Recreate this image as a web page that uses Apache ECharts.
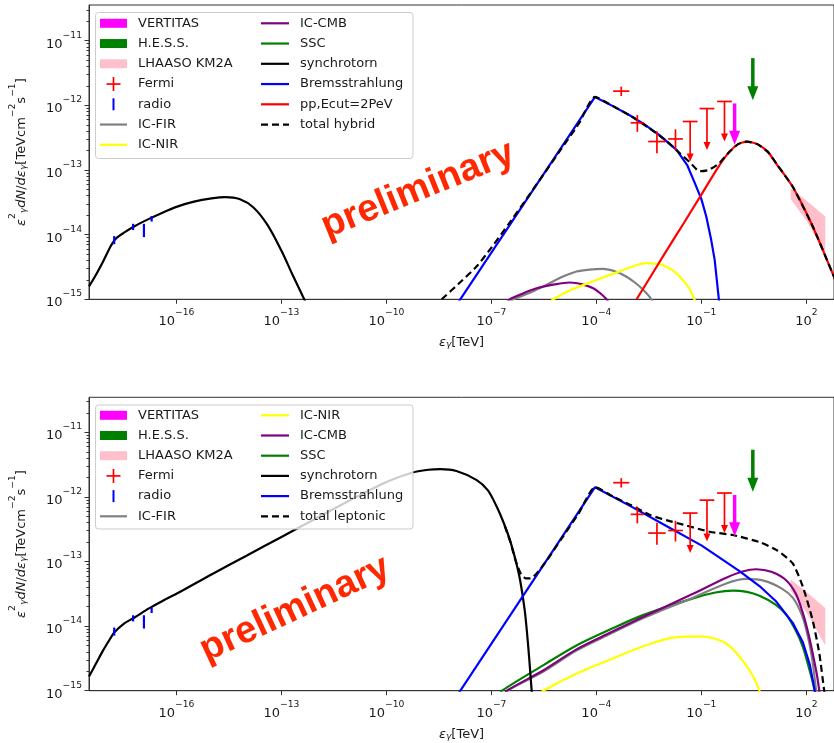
<!DOCTYPE html>
<html><head><meta charset="utf-8">
<script src="https://cdn.jsdelivr.net/npm/echarts@6/dist/echarts.min.js"></script>
<style>html,body{margin:0;padding:0;background:#fff}#c{width:834px;height:743px}</style>
</head><body><div id="c"></div>
<script>
// ---------- DATA (all numbers are log10: energy in TeV, flux in TeV cm^-2 s^-1) ----------
const xTickExp = [-16, -13, -10, -7, -4, -1, 2];
const yTickExp = [-15, -14, -13, -12, -11];

// radio points (shared by both panels)
const radioE  = [-17.78, -17.24, -16.93, -16.71];
const radioLo = [-14.14, -13.92, -14.03, -13.79];
const radioHi = [-14.03, -13.84, -13.84, -13.72];

// Fermi points
const fermiE   = [-3.29, -2.83, -2.27, -1.74];
const fermiF   = [-11.78, -12.27, -12.56, -12.52];
const fermiFlo = [-11.855, -12.41, -12.74, -12.69];
const fermiFhi = [-11.71, -12.15, -12.40, -12.37];
const fermiEhalf = [0.23, 0.19, 0.25, 0.21];

// Fermi upper limits
const ulE   = [-1.32, -0.84, -0.34];
const ulCap = [-12.25, -12.05, -11.94];
const ulTip = [-12.87, -12.69, -12.56];
const ulEhalf = [0.21, 0.21, 0.21];

// VERTITAS and H.E.S.S. upper-limit arrows
const veritasE = [-0.05], veritasTop = [-11.97], veritasTip = [-12.61];
const hessE = [0.47], hessTop = [-11.27], hessTip = [-11.92];

// LHAASO KM2A band
const lhaasoE  = [1.55, 2.0, 2.54];
const lhaasoHi = [-13.28, -13.47, -13.72];
const lhaasoLo = [-13.45, -13.78, -14.3];

// ---- Top panel: hybrid model ----
const syncHyb = [[-18.5,-14.80],[-18.3,-14.62],[-18.1,-14.42],[-17.9,-14.2],[-17.75,-14.07],[-17.5,-13.97],[-17.2,-13.87],[-16.8,-13.76],[-16.4,-13.66],[-16.0,-13.57],[-15.5,-13.49],[-15.0,-13.44],[-14.6,-13.42],[-14.2,-13.45],[-13.8,-13.58],[-13.4,-13.85],[-13.0,-14.25],[-12.7,-14.6],[-12.35,-15.0],[-12.2,-15.2]];
const bremsHyb = [[-7.95,-15.05],[-4.04,-11.87],[-3.5,-12.02],[-3.0,-12.17],[-2.67,-12.28],[-2.2,-12.46],[-1.71,-12.69],[-1.4,-12.93],[-1.19,-13.2],[-1.0,-13.45],[-0.86,-13.72],[-0.72,-14.08],[-0.62,-14.39],[-0.5,-15.0],[-0.47,-15.2]];
const ppHyb = [[-2.85,-15.0],[-2.0,-14.25],[-1.5,-13.82],[-1.0,-13.38],[-0.5,-12.94],[-0.2,-12.72],[0.05,-12.6],[0.3,-12.56],[0.6,-12.6],[0.9,-12.72],[1.14,-12.9],[1.61,-13.26],[2.18,-13.87],[2.75,-14.6],[2.85,-14.73]];
const totalHyb = [[-8.42,-15.0],[-7.9,-14.74],[-7.42,-14.49],[-7.0,-14.2],[-6.5,-13.83],[-6.0,-13.45],[-5.5,-13.06],[-5.0,-12.67],[-4.5,-12.28],[-4.04,-11.87],[-3.5,-12.02],[-3.0,-12.17],[-2.5,-12.35],[-2.0,-12.55],[-1.6,-12.75],[-1.33,-12.88],[-1.05,-13.02],[-0.8,-13.0],[-0.5,-12.9],[-0.2,-12.72],[0.05,-12.6],[0.3,-12.56],[0.6,-12.6],[0.9,-12.72],[1.14,-12.9],[1.61,-13.26],[2.18,-13.87],[2.75,-14.6],[2.85,-14.73]];
const icFirHyb = [[-6.6,-15.1],[-6.37,-15.0],[-5.9,-14.9],[-5.52,-14.8],[-5.0,-14.66],[-4.57,-14.57],[-4.2,-14.54],[-3.81,-14.53],[-3.45,-14.57],[-3.14,-14.65],[-2.9,-14.74],[-2.67,-14.85],[-2.43,-15.0],[-2.35,-15.1]];
const icCmbHyb = [[-6.6,-15.08],[-6.47,-15.0],[-6.1,-14.91],[-5.71,-14.83],[-5.2,-14.77],[-4.76,-14.74],[-4.4,-14.77],[-4.09,-14.83],[-3.88,-14.91],[-3.71,-15.0],[-3.65,-15.05]];
const icNirHyb = [[-5.35,-15.06],[-5.23,-15.0],[-4.7,-14.85],[-4.09,-14.72],[-3.4,-14.58],[-2.9,-14.48],[-2.57,-14.44],[-2.3,-14.45],[-2.1,-14.47],[-1.8,-14.56],[-1.53,-14.7],[-1.35,-14.83],[-1.2,-15.0],[-1.15,-15.06]];

// ---- Bottom panel: leptonic model ----
const syncLep = [[-18.5,-14.78],[-18.3,-14.58],[-18.1,-14.38],[-17.9,-14.2],[-17.78,-14.1],[-17.5,-13.96],[-17.21,-13.87],[-16.8,-13.73],[-16.4,-13.61],[-16.0,-13.5],[-15.0,-13.2],[-14.0,-12.91],[-13.0,-12.62],[-12.0,-12.33],[-11.0,-12.04],[-10.0,-11.77],[-9.3,-11.63],[-8.8,-11.58],[-8.46,-11.57],[-8.0,-11.6],[-7.42,-11.74],[-7.1,-11.9],[-6.85,-12.15],[-6.65,-12.4],[-6.47,-12.67],[-6.3,-13.0],[-6.18,-13.29],[-6.05,-13.75],[-5.99,-14.06],[-5.92,-14.5],[-5.85,-15.0],[-5.83,-15.1]];
const bremsLep = [[-7.95,-15.05],[-4.04,-11.85],[-3.0,-12.15],[-2.0,-12.45],[-1.0,-12.75],[0.09,-13.15],[0.66,-13.38],[1.14,-13.62],[1.61,-13.95],[1.9,-14.25],[2.1,-14.6],[2.24,-15.0],[2.27,-15.1]];
const totalLep = [[-6.62,-12.45],[-6.47,-12.68],[-6.3,-13.0],[-6.15,-13.2],[-6.02,-13.26],[-5.88,-13.26],[-5.7,-13.18],[-5.4,-12.97],[-5.0,-12.65],[-4.5,-12.25],[-4.04,-11.85],[-3.5,-12.0],[-3.0,-12.13],[-2.47,-12.28],[-2.0,-12.36],[-1.52,-12.43],[-0.76,-12.54],[-0.1,-12.59],[0.66,-12.7],[1.14,-12.82],[1.61,-13.03],[1.9,-13.39],[2.18,-13.91],[2.37,-14.42],[2.51,-15.0],[2.55,-15.1]];
const icFirLep = [[-6.6,-15.05],[-6.55,-15.0],[-5.5,-14.7],[-4.57,-14.38],[-3.6,-14.12],[-2.67,-13.88],[-1.24,-13.56],[-0.29,-13.34],[0.28,-13.27],[0.8,-13.3],[1.3,-13.42],[1.61,-13.56],[1.85,-13.8],[2.0,-14.06],[2.15,-14.45],[2.28,-15.0],[2.3,-15.1]];
const icCmbLep = [[-6.6,-15.05],[-6.56,-15.0],[-5.5,-14.68],[-4.57,-14.36],[-3.6,-14.1],[-2.67,-13.86],[-1.24,-13.5],[-0.29,-13.25],[0.2,-13.15],[0.57,-13.12],[1.0,-13.16],[1.42,-13.29],[1.7,-13.5],[1.9,-13.8],[2.05,-14.1],[2.18,-14.42],[2.3,-14.75],[2.37,-15.0],[2.4,-15.1]];
const sscLep = [[-6.75,-15.05],[-6.7,-15.0],[-5.5,-14.6],[-4.57,-14.3],[-3.6,-14.05],[-2.67,-13.83],[-1.24,-13.57],[-0.6,-13.48],[-0.1,-13.45],[0.3,-13.47],[0.66,-13.53],[1.1,-13.66],[1.42,-13.82],[1.7,-14.07],[1.9,-14.32],[2.1,-14.7],[2.24,-15.0],[2.27,-15.1]];
const icNirLep = [[-5.6,-15.05],[-5.52,-15.0],[-4.5,-14.72],[-3.62,-14.52],[-2.6,-14.3],[-1.71,-14.17],[-1.0,-14.16],[-0.29,-14.27],[0.2,-14.55],[0.5,-14.8],[0.66,-15.0],[0.7,-15.05]];

// legend texts
const legendTop1 = ['VERTITAS','H.E.S.S.','LHAASO KM2A','Fermi','radio','IC-FIR','IC-NIR'];
const legendTop2 = ['IC-CMB','SSC','synchrotorn','Bremsstrahlung','pp,Ecut=2PeV','total hybrid'];
const legendBot1 = ['VERTITAS','H.E.S.S.','LHAASO KM2A','Fermi','radio','IC-FIR'];
const legendBot2 = ['IC-NIR','IC-CMB','SSC','synchrotorn','Bremsstrahlung','total leptonic'];
const watermark = 'preliminary';

// ---------- STYLE ----------
const C = {VERTITAS:'#ff00ff', HESS:'#008000', LHAASO:'#ffc0cb', red:'#ff0000', blue:'#0000ff',
  gray:'#808080', yellow:'#ffff00', purple:'#800080', green:'#008000', black:'#000000'};
const legendKinds = {
  'VERTITAS':{k:'patch',c:C.VERTITAS}, 'H.E.S.S.':{k:'patch',c:C.HESS}, 'LHAASO KM2A':{k:'patch',c:C.LHAASO},
  'Fermi':{k:'plus',c:C.red}, 'radio':{k:'bar',c:C.blue}, 'IC-FIR':{k:'line',c:C.gray}, 'IC-NIR':{k:'line',c:C.yellow},
  'IC-CMB':{k:'line',c:C.purple}, 'SSC':{k:'line',c:C.green}, 'synchrotorn':{k:'line',c:C.black},
  'Bremsstrahlung':{k:'line',c:C.blue}, 'pp,Ecut=2PeV':{k:'line',c:C.red},
  'total hybrid':{k:'dash',c:C.black}, 'total leptonic':{k:'dash',c:C.black}
};
const FONT = '"DejaVu Sans", sans-serif';
const TXT = '#1a1a1a';
const LW = 2.2;

const X_MIN = -18.5, X_MAX = 2.79;
const Y_MIN = -15, Y_MAX_TOP = -10.448, Y_MAX_BOT = -10.458;

function fmtExp(v) {
  const n = Math.round(v);
  return '{b|10}{s|' + (n < 0 ? '\u2212' + (-n) : String(n)) + '}';
}
const tickRich = {
  b: {fontSize: 13, fontFamily: FONT, color: TXT, lineHeight: 20, verticalAlign: 'bottom'},
  s: {fontSize: 9.2, fontFamily: FONT, color: TXT, lineHeight: 11, verticalAlign: 'top'}
};
const nameRich = {
  n: {fontSize: 13, fontFamily: FONT, color: TXT, lineHeight: 20, verticalAlign: 'bottom'},
  i: {fontSize: 13, fontFamily: FONT, fontStyle: 'italic', color: TXT, lineHeight: 20, verticalAlign: 'bottom'},
  sp: {fontSize: 9.2, fontFamily: FONT, color: TXT, lineHeight: 11, verticalAlign: 'top'},
  sb: {fontSize: 9.2, fontFamily: FONT, fontStyle: 'italic', color: TXT, lineHeight: 11, verticalAlign: 'bottom'}
};
const yName = '{i|\u03b5}{sp|2}{sb|\u03b3}{i|dN}{n|/}{i|d\u03b5}{sb|\u03b3}{n|[TeVcm}{sp|\u22122}{n|s}{sp|\u22121}{n|]}';
const xName = '{i|\u03b5}{sb|\u03b3}{n|[TeV]}';

const minorVals = [];
for (let n = -15; n <= -11; n++) for (let k = 2; k <= 9; k++) minorVals.push(n + Math.log10(k));

function xAxisDef(gi) {
  return {type: 'value', gridIndex: gi, min: X_MIN, max: X_MAX,
    axisLine: {show: true, onZero: false, lineStyle: {color: '#333', width: 1}},
    axisTick: {show: true, length: 4.5, customValues: xTickExp, lineStyle: {color: '#333'}},
    axisLabel: {customValues: xTickExp, formatter: fmtExp, rich: tickRich, margin: 9},
    splitLine: {show: false},
    name: xName, nameLocation: 'middle', nameGap: 30, nameMoveOverlap: false,
    nameTextStyle: {rich: nameRich, fontSize: 13, fontFamily: FONT, color: TXT}};
}
function yAxisDef(gi, ymax) {
  return {type: 'value', gridIndex: gi, min: Y_MIN, max: ymax, position: 'left',
    axisLine: {show: true, onZero: false, lineStyle: {color: '#333', width: 1}},
    axisTick: {show: true, length: 4.5, customValues: yTickExp, lineStyle: {color: '#333'}},
    axisLabel: {customValues: yTickExp, formatter: fmtExp, rich: tickRich, margin: 7},
    splitLine: {show: false},
    name: yName, nameLocation: 'middle', nameGap: 61, nameRotate: 90, nameMoveOverlap: false,
    nameTextStyle: {rich: nameRich, fontSize: 13, fontFamily: FONT, color: TXT}};
}
function yMinorDef(gi, ymax) {
  return {type: 'value', gridIndex: gi, min: Y_MIN, max: ymax, position: 'left',
    axisLine: {show: true, onZero: false, lineStyle: {color: 'rgba(0,0,0,0)'}},
    axisLabel: {show: false}, splitLine: {show: false},
    axisTick: {show: true, length: 2.5, customValues: minorVals.filter(v => v <= ymax), lineStyle: {color: '#333', width: 1}}};
}

function lineSeries(name, data, color, xi, yi, opts) {
  opts = opts || {};
  return {type: 'line', name, data, xAxisIndex: xi, yAxisIndex: yi,
    showSymbol: false, symbol: 'none', clip: true, silent: true, animation: false,
    smooth: opts.smooth || false, z: opts.z || 3,
    lineStyle: {color, width: LW, type: opts.dash ? [7, 4] : 'solid'},
    itemStyle: {color}};
}

function radioSeries(xi, yi) {
  return {type: 'custom', name: 'radio', xAxisIndex: xi, yAxisIndex: yi, z: 6, silent: true, animation: false,
    data: radioE.map((e, i) => [e, radioLo[i], radioHi[i]]),
    renderItem: (p, api) => {
      const a = api.coord([api.value(0), api.value(1)]);
      const b = api.coord([api.value(0), api.value(2)]);
      return {type: 'line', shape: {x1: a[0], y1: a[1] + 0.5, x2: b[0], y2: b[1] - 0.5},
        style: {stroke: C.blue, lineWidth: 2.2}};
    }};
}
function fermiSeries(xi, yi) {
  return {type: 'custom', name: 'Fermi', xAxisIndex: xi, yAxisIndex: yi, z: 6, silent: true, animation: false,
    data: fermiE.map((e, i) => [e, fermiF[i], e - fermiEhalf[i], e + fermiEhalf[i], fermiFlo[i], fermiFhi[i]]),
    renderItem: (p, api) => {
      const c = api.coord([api.value(0), api.value(1)]);
      const l = api.coord([api.value(2), api.value(1)]);
      const r = api.coord([api.value(3), api.value(1)]);
      const lo = api.coord([api.value(0), api.value(4)]);
      const hi = api.coord([api.value(0), api.value(5)]);
      const st = {stroke: C.red, lineWidth: 1.7};
      return {type: 'group', children: [
        {type: 'line', shape: {x1: l[0], y1: c[1], x2: r[0], y2: c[1]}, style: st},
        {type: 'line', shape: {x1: c[0], y1: hi[1], x2: c[0], y2: lo[1]}, style: st}]};
    }};
}
function ulSeries(xi, yi) {
  return {type: 'custom', name: 'Fermi UL', xAxisIndex: xi, yAxisIndex: yi, z: 6, silent: true, animation: false,
    data: ulE.map((e, i) => [e, ulCap[i], ulTip[i], e - ulEhalf[i], e + ulEhalf[i]]),
    renderItem: (p, api) => {
      const c = api.coord([api.value(0), api.value(1)]);
      const t = api.coord([api.value(0), api.value(2)]);
      const l = api.coord([api.value(3), api.value(1)]);
      const r = api.coord([api.value(4), api.value(1)]);
      const st = {stroke: C.red, lineWidth: 1.7};
      return {type: 'group', children: [
        {type: 'line', shape: {x1: l[0], y1: c[1], x2: r[0], y2: c[1]}, style: st},
        {type: 'line', shape: {x1: c[0], y1: c[1], x2: c[0], y2: t[1] - 5}, style: st},
        {type: 'polygon', shape: {points: [[t[0] - 3.5, t[1] - 8], [t[0] + 3.5, t[1] - 8], [t[0], t[1]]]}, style: {fill: C.red}}]};
    }};
}
function arrowSeries(name, E, top, tip, color, xi, yi) {
  return {type: 'custom', name, xAxisIndex: xi, yAxisIndex: yi, z: 7, silent: true, animation: false,
    data: E.map((e, i) => [e, top[i], tip[i]]),
    renderItem: (p, api) => {
      const a = api.coord([api.value(0), api.value(1)]);
      const b = api.coord([api.value(0), api.value(2)]);
      const hh = 14, hw = 5.5;
      return {type: 'group', children: [
        {type: 'line', shape: {x1: a[0], y1: a[1], x2: b[0], y2: b[1] - hh + 1}, style: {stroke: color, lineWidth: 3.5}},
        {type: 'polygon', shape: {points: [[b[0] - hw, b[1] - hh], [b[0] + hw, b[1] - hh], [b[0], b[1]]]}, style: {fill: color}}]};
    }};
}
function bandSeries(xi, yi) {
  return {type: 'custom', name: 'LHAASO KM2A', xAxisIndex: xi, yAxisIndex: yi, z: 1, silent: true, animation: false,
    data: lhaasoE.map((e, i) => [e, lhaasoLo[i], lhaasoHi[i]]),
    renderItem: (p, api) => {
      if (p.dataIndex !== 0) return null;
      const pts = [];
      for (let i = 0; i < lhaasoE.length; i++) pts.push(api.coord([lhaasoE[i], lhaasoHi[i]]));
      for (let i = lhaasoE.length - 1; i >= 0; i--) pts.push(api.coord([lhaasoE[i], lhaasoLo[i]]));
      return {type: 'polygon', shape: {points: pts}, style: {fill: C.LHAASO}};
    }};
}

// ---------- LEGEND (graphic) ----------
function legendGraphics(box, rows0, rowGap, col1, col2) {
  const els = [];
  els.push({type: 'rect', z: 100, shape: {x: box[0], y: box[1], width: box[2], height: box[3], r: 3},
    style: {fill: 'rgba(255,255,255,0.8)', stroke: '#cccccc', lineWidth: 1}});
  const cols = [{items: col1, ix: 100, iw: 27, tx: 138}, {items: col2, ix: 261, iw: 28, tx: 300}];
  cols.forEach(col => {
    col.items.forEach((name, r) => {
      const y = rows0 + r * rowGap;
      const kd = legendKinds[name];
      const cx = col.ix + col.iw / 2;
      if (kd.k === 'patch') {
        els.push({type: 'rect', z: 101, shape: {x: col.ix, y: y - 4.5, width: col.iw, height: 9}, style: {fill: kd.c}});
      } else if (kd.k === 'line' || kd.k === 'dash') {
        els.push({type: 'line', z: 101, shape: {x1: col.ix, y1: y, x2: col.ix + col.iw, y2: y},
          style: {stroke: kd.c, lineWidth: LW, lineDash: kd.k === 'dash' ? [7, 4] : null}});
      } else if (kd.k === 'plus') {
        els.push({type: 'line', z: 101, shape: {x1: cx - 7, y1: y, x2: cx + 7, y2: y}, style: {stroke: kd.c, lineWidth: 1.7}});
        els.push({type: 'line', z: 101, shape: {x1: cx, y1: y - 7, x2: cx, y2: y + 7}, style: {stroke: kd.c, lineWidth: 1.7}});
      } else if (kd.k === 'bar') {
        els.push({type: 'line', z: 101, shape: {x1: cx, y1: y - 6, x2: cx, y2: y + 6}, style: {stroke: kd.c, lineWidth: 2}});
      }
      els.push({type: 'text', z: 101, x: col.tx, y: y,
        style: {text: name, fill: TXT, font: '13px ' + FONT, textAlign: 'left', align: 'left', textVerticalAlign: 'middle', verticalAlign: 'middle'}});
    });
  });
  return els;
}

function wm(x, y, deg) {
  return {type: 'text', z: 50, x, y, rotation: deg * Math.PI / 180,
    style: {text: watermark, fill: '#ff2800', font: 'bold 38px "Liberation Sans", Arial, sans-serif',
      textAlign: 'center', align: 'center', textVerticalAlign: 'middle', verticalAlign: 'middle'}};
}

const option = {
  animation: false,
  backgroundColor: '#ffffff',
  grid: [
    {left: 88, right: -1, top: 5, height: 294.3, show: true, borderColor: '#333', borderWidth: 1, backgroundColor: 'transparent'},
    {left: 88, right: -1, top: 397.3, height: 293.4, show: true, borderColor: '#333', borderWidth: 1, backgroundColor: 'transparent'}
  ],
  xAxis: [xAxisDef(0), xAxisDef(1)],
  yAxis: [yAxisDef(0, Y_MAX_TOP), yMinorDef(0, Y_MAX_TOP), yAxisDef(1, Y_MAX_BOT), yMinorDef(1, Y_MAX_BOT)],
  series: [
    bandSeries(0, 0),
    lineSeries('IC-FIR', icFirHyb, C.gray, 0, 0, {smooth: 0.3}),
    lineSeries('IC-CMB', icCmbHyb, C.purple, 0, 0, {smooth: 0.3}),
    lineSeries('IC-NIR', icNirHyb, C.yellow, 0, 0, {smooth: 0.3}),
    lineSeries('synchrotorn', syncHyb, C.black, 0, 0, {smooth: 0.3}),
    lineSeries('Bremsstrahlung', bremsHyb, C.blue, 0, 0),
    lineSeries('pp,Ecut=2PeV', ppHyb, C.red, 0, 0, {smooth: 0.2}),
    lineSeries('total hybrid', totalHyb, C.black, 0, 0, {dash: true, z: 4, smooth: 0.2}),
    radioSeries(0, 0), fermiSeries(0, 0), ulSeries(0, 0),
    arrowSeries('VERTITAS', veritasE, veritasTop, veritasTip, C.VERTITAS, 0, 0),
    arrowSeries('H.E.S.S.', hessE, hessTop, hessTip, C.HESS, 0, 0),

    bandSeries(1, 2),
    lineSeries('IC-NIR', icNirLep, C.yellow, 1, 2, {smooth: 0.3}),
    lineSeries('SSC', sscLep, C.green, 1, 2, {smooth: 0.3}),
    lineSeries('IC-FIR', icFirLep, C.gray, 1, 2, {smooth: 0.3}),
    lineSeries('IC-CMB', icCmbLep, C.purple, 1, 2, {smooth: 0.3}),
    lineSeries('synchrotorn', syncLep, C.black, 1, 2, {smooth: 0.3}),
    lineSeries('Bremsstrahlung', bremsLep, C.blue, 1, 2),
    lineSeries('total leptonic', totalLep, C.black, 1, 2, {dash: true, z: 4, smooth: 0.2}),
    radioSeries(1, 2), fermiSeries(1, 2), ulSeries(1, 2),
    arrowSeries('VERTITAS', veritasE, veritasTop, veritasTip, C.VERTITAS, 1, 2),
    arrowSeries('H.E.S.S.', hessE, hessTop, hessTip, C.HESS, 1, 2)
  ],
  graphic: [].concat(
    legendGraphics([95.5, 12.5, 317.5, 146], 23.3, 20.25, legendTop1, legendTop2),
    legendGraphics([95.5, 405, 317.5, 124], 415.3, 20.2, legendBot1, legendBot2),
    [wm(418, 190, 22), wm(295, 609, 25)]
  )
};

const chart = echarts.init(document.getElementById('c'), null, {renderer: 'canvas'});
chart.setOption(option);
</script>
</body></html>
